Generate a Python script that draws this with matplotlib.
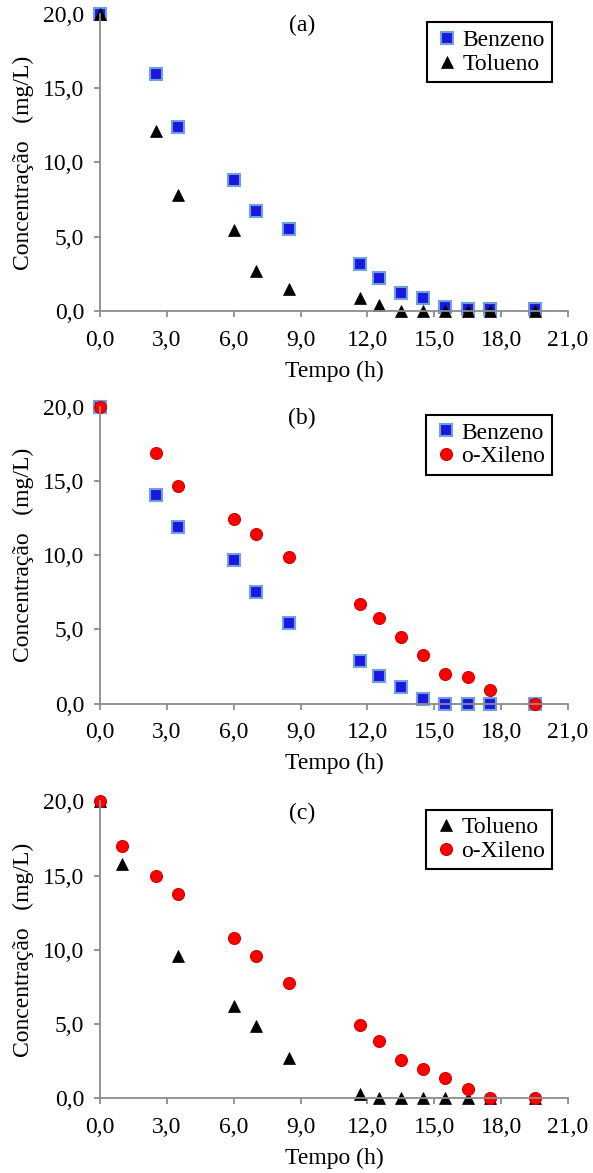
import matplotlib
matplotlib.use("Agg")
import matplotlib.pyplot as plt
import matplotlib.ticker as ticker

plt.rcParams['font.family'] = ['Liberation Serif', 'DejaVu Serif']

# tempos de coleta (h)
tempo = [0, 2.5, 3.5, 6, 7, 8.5, 11.67, 12.5, 13.5, 14.5, 15.5, 16.5, 17.5, 19.5]
tempo_c_tol = [0, 1, 3.5, 6, 7, 8.5, 11.67, 12.5, 13.5, 14.5, 15.5, 16.5, 17.5, 19.5]
tempo_c_xil = [0, 1, 2.5, 3.5, 6, 7, 8.5, 11.67, 12.5, 13.5, 14.5, 15.5, 16.5, 17.5, 19.5]

# (a) benzeno + tolueno
benz_a = [20.0, 15.95, 12.4, 8.8, 6.7, 5.5, 3.15, 2.2, 1.2, 0.9, 0.25, 0.1, 0.1, 0.1]
tol_a = [20.0, 12.1, 7.8, 5.45, 2.7, 1.5, 0.9, 0.4, 0.0, 0.0, 0.0, 0.0, 0.0, 0.0]

# (b) benzeno + o-xileno
benz_b = [20.0, 14.05, 11.9, 9.65, 7.55, 5.45, 2.9, 1.85, 1.1, 0.3, 0.0, 0.0, 0.0, 0.0]
xil_b = [20.0, 16.85, 14.65, 12.45, 11.4, 9.85, 6.7, 5.8, 4.5, 3.3, 2.0, 1.8, 0.9, 0.0]

# (c) tolueno + o-xileno
tol_c = [20.0, 15.75, 9.6, 6.2, 4.85, 2.7, 0.3, 0.0, 0.0, 0.0, 0.0, 0.0, 0.0, 0.0]
xil_c = [20.0, 17.0, 14.95, 13.75, 10.8, 9.55, 7.75, 4.95, 3.85, 2.6, 1.95, 1.35, 0.65, 0.05, 0.05]

xticks = [0, 3, 6, 9, 12, 15, 18, 21]
yticks = [0, 5, 10, 15, 20]

estilo = {
    'Benzeno': dict(marker='s', color='#1818e0', mec='#6fa0dc', mew=1.5, ms=8.2),
    'Tolueno': dict(marker='^', color='black', mec='black', mew=0.5, ms=9),
    'o-Xileno': dict(marker='o', color='#ff0000', mec='#d00000', mew=0.8, ms=8.6),
}

paineis = [
    ('(a)', [(tempo, benz_a, 'Benzeno'), (tempo, tol_a, 'Tolueno')]),
    ('(b)', [(tempo, benz_b, 'Benzeno'), (tempo, xil_b, 'o-Xileno')]),
    ('(c)', [(tempo_c_tol, tol_c, 'Tolueno'), (tempo_c_xil, xil_c, 'o-Xileno')]),
]

fig = plt.figure(figsize=(5.93, 11.73), dpi=100)
bottoms = [0.7349, 0.4001, 0.0637]

for (rotulo, series), b in zip(paineis, bottoms):
    ax = fig.add_axes([0.1686, b, 0.7892, 0.2532])
    for x, y, nome in series:
        st = estilo[nome]
        ax.plot(x, y, linestyle='none', marker=st['marker'], color=st['color'],
                mec=st['mec'], mew=st['mew'], ms=st['ms'], label=nome, clip_on=False)
    ax.set_xlim(0, 21)
    ax.set_ylim(0, 20)
    ax.xaxis.set_major_locator(ticker.FixedLocator(xticks))
    ax.yaxis.set_major_locator(ticker.FixedLocator(yticks))
    ax.xaxis.set_major_formatter(ticker.FuncFormatter(lambda v, p: f'{v:.1f}'.replace('.', ',')))
    ax.yaxis.set_major_formatter(ticker.FuncFormatter(lambda v, p: f'{v:.1f}'.replace('.', ',')))
    for s in ['top', 'right']:
        ax.spines[s].set_visible(False)
    for s in ['left', 'bottom']:
        ax.spines[s].set_color('#8c8c8c')
        ax.spines[s].set_linewidth(1.3)
    ax.tick_params(axis='both', direction='out', length=4.5, width=1.3, color='#8c8c8c',
                   labelsize=17, pad=7)
    ax.tick_params(axis='x', pad=9)
    ax.set_xlabel('Tempo (h)', fontsize=17, labelpad=7)
    ax.set_ylabel('Concentração   (mg/L)', fontsize=17, labelpad=6)
    ax.text(0.432, 0.96, rotulo, transform=ax.transAxes, ha='center', va='center', fontsize=17)
    leg = ax.legend(loc='upper right', bbox_to_anchor=(0.966, 0.972), fontsize=17,
                    fancybox=False, framealpha=1, edgecolor='black', handletextpad=0.1,
                    handlelength=1.1, borderpad=0.3, labelspacing=0.1, borderaxespad=0,
                    markerscale=1.0)
    leg.get_frame().set_linewidth(1.5)

fig.savefig('out.png', dpi=100)
